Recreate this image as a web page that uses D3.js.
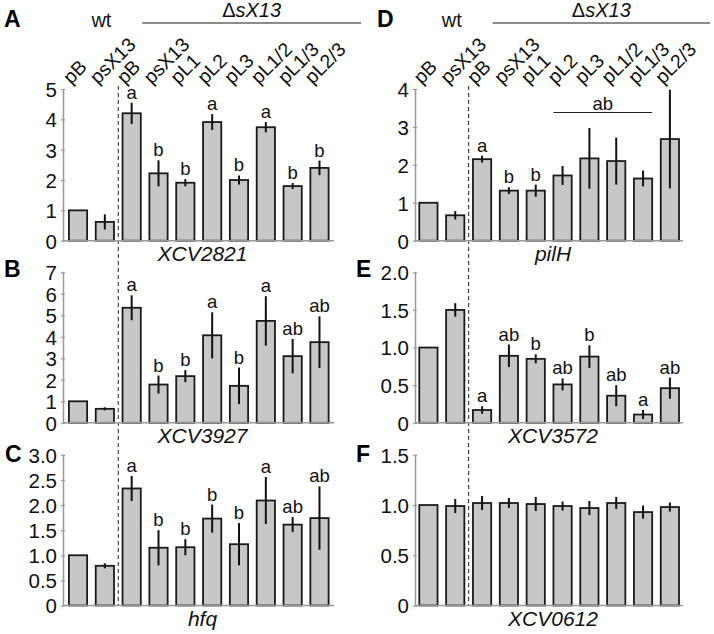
<!DOCTYPE html>
<html>
<head>
<meta charset="utf-8">
<script src="https://cdn.jsdelivr.net/npm/d3@7"></script>
<style>
  html, body { margin: 0; padding: 0; background: #fff; }
  svg { display: block; font-family: "Liberation Sans", Arial, sans-serif; }
</style>
</head>
<body>
<svg id="chart" width="714" height="634"></svg>
<script>
// ---------- data ----------
const categories = ["pB", "psX13", "pB", "psX13", "pL1", "pL2", "pL3", "pL1/2", "pL1/3", "pL2/3"];
const groupWt = "wt";
const groupMutant = "ΔsX13";

const geneA = "XCV2821";
const valuesA = [1.0, 0.62, 4.2, 2.22, 1.91, 3.91, 2.0, 3.74, 1.8, 2.4];
const errorsA = [0, 0.25, 0.35, 0.43, 0.12, 0.26, 0.15, 0.17, 0.1, 0.24];
const lettersA = ["", "", "a", "b", "b", "a", "b", "a", "b", "b"];
const ticksA = [0, 1, 2, 3, 4, 5];
const tickLabelsA = ["0", "1", "2", "3", "4", "5"];

const geneB = "XCV3927";
const valuesB = [1.0, 0.65, 5.35, 1.78, 2.17, 4.07, 1.72, 4.74, 3.1, 3.75];
const errorsB = [0, 0.07, 0.58, 0.42, 0.28, 1.07, 0.85, 1.15, 0.8, 1.2];
const lettersB = ["", "", "a", "b", "b", "a", "b", "a", "ab", "ab"];
const ticksB = [0, 1, 2, 3, 4, 5, 6, 7];
const tickLabelsB = ["0", "1", "2", "3", "4", "5", "6", "7"];

const geneC = "hfq";
const valuesC = [1.0, 0.79, 2.33, 1.15, 1.16, 1.73, 1.22, 2.09, 1.61, 1.74];
const errorsC = [0, 0.05, 0.25, 0.35, 0.16, 0.28, 0.42, 0.47, 0.15, 0.63];
const lettersC = ["", "", "a", "b", "b", "b", "b", "a", "ab", "ab"];
const ticksC = [0, 0.5, 1.0, 1.5, 2.0, 2.5, 3.0];
const tickLabelsC = ["0", "0.5", "1.0", "1.5", "2.0", "2.5", "3.0"];

const geneD = "pilH";
const valuesD = [1.0, 0.67, 2.15, 1.32, 1.32, 1.72, 2.17, 2.1, 1.64, 2.68];
const errorsD = [0, 0.11, 0.09, 0.09, 0.16, 0.25, 0.8, 0.62, 0.21, 1.3];
const lettersD = ["", "", "a", "b", "b", "", "", "", "", ""];
const ticksD = [0, 1, 2, 3, 4];
const tickLabelsD = ["0", "1", "2", "3", "4"];
const bracketD = ["ab", 5, 8, 3.38];   // text, first bar, last bar, level

const geneE = "XCV3572";
const valuesE = [1.0, 1.5, 0.17, 0.89, 0.85, 0.51, 0.88, 0.36, 0.11, 0.46];
const errorsE = [0, 0.09, 0.05, 0.15, 0.06, 0.08, 0.15, 0.14, 0.06, 0.14];
const lettersE = ["", "", "a", "ab", "b", "ab", "b", "ab", "a", "ab"];
const ticksE = [0, 0.5, 1.0, 1.5, 2.0];
const tickLabelsE = ["0", "0.5", "1.0", "1.5", "2.0"];

const geneF = "XCV0612";
const valuesF = [1.0, 0.99, 1.02, 1.02, 1.01, 0.99, 0.97, 1.02, 0.93, 0.98];
const errorsF = [0, 0.07, 0.07, 0.05, 0.07, 0.045, 0.07, 0.06, 0.065, 0.045];
const lettersF = ["", "", "", "", "", "", "", "", "", ""];
const ticksF = [0, 0.5, 1.0, 1.5];
const tickLabelsF = ["0", "0.5", "1.0", "1.5"];

// ---------- layout ----------
const svg = d3.select("#chart");
const cols = [
  { x0: 63, x1: 334, bandStart: 64.6 },
  { x0: 415, x1: 683, bandStart: 415 }
];
const rows = [
  { top: 89, bottom: 240.7 },
  { top: 272.3, bottom: 422.8 },
  { top: 454.8, bottom: 605.5 }
];

const panels = [
  { letter: "A", col: 0, row: 0, gene: geneA, v: valuesA, e: errorsA, l: lettersA, t: ticksA, tl: tickLabelsA, lx: 4, ly: 27 },
  { letter: "B", col: 0, row: 1, gene: geneB, v: valuesB, e: errorsB, l: lettersB, t: ticksB, tl: tickLabelsB, lx: 4, ly: 277 },
  { letter: "C", col: 0, row: 2, gene: geneC, v: valuesC, e: errorsC, l: lettersC, t: ticksC, tl: tickLabelsC, lx: 5, ly: 462 },
  { letter: "D", col: 1, row: 0, gene: geneD, v: valuesD, e: errorsD, l: lettersD, t: ticksD, tl: tickLabelsD, lx: 377, ly: 27 },
  { letter: "E", col: 1, row: 1, gene: geneE, v: valuesE, e: errorsE, l: lettersE, t: ticksE, tl: tickLabelsE, lx: 356, ly: 277 },
  { letter: "F", col: 1, row: 2, gene: geneF, v: valuesF, e: errorsF, l: lettersF, t: ticksF, tl: tickLabelsF, lx: 356, ly: 462 }
];

const idx = d3.range(categories.length);

cols.forEach((c, ci) => {
  c.x = d3.scaleBand().domain(idx).range([c.bandStart, c.bandStart + 268.3])
    .paddingInner(0.32).paddingOuter(0.16);
  const x = c.x;
  const step = x.step();
  const dashX = x(1) + x.bandwidth() + step * 0.32 / 2;

  const head = svg.append("g");
  categories.forEach((cat, i) => {
    const cx = x(i) + x.bandwidth() / 2;
    head.append("text")
      .attr("transform", `translate(${cx - 7},${85}) rotate(-45)`)
      .attr("font-size", 19.5)
      .attr("fill", "#111")
      .text(cat);
  });
  const wtX = (x(0) + x(1) + x.bandwidth()) / 2 + 10;
  head.append("text").attr("x", wtX).attr("y", 27).attr("text-anchor", "middle")
    .attr("font-size", 20).attr("fill", "#111").text(groupWt);
  const lx0 = dashX + 24, lx1 = c.x1 + 27;
  head.append("line").attr("x1", lx0).attr("x2", lx1).attr("y1", 23).attr("y2", 23)
    .attr("stroke", "#666").attr("stroke-width", 1.5);
  const mt = head.append("text").attr("x", (lx0 + lx1) / 2).attr("y", 17)
    .attr("text-anchor", "middle").attr("font-size", 20).attr("fill", "#111");
  mt.append("tspan").text(groupMutant.slice(0, 1));
  mt.append("tspan").attr("font-style", "italic").text(groupMutant.slice(1));

  svg.append("line").attr("x1", dashX).attr("x2", dashX).attr("y1", 86).attr("y2", 606)
    .attr("stroke", "#222").attr("stroke-width", 1).attr("stroke-dasharray", "4,3");
});

panels.forEach(p => {
  const c = cols[p.col], r = rows[p.row];
  const x = c.x;
  const y = d3.scaleLinear().domain([0, d3.max(p.t)]).range([r.bottom, r.top]);
  const g = svg.append("g");
  const rowsData = p.v.map((v, i) => ({ i, v, e: p.e[i], l: p.l[i] }));

  const ax = g.append("g").attr("transform", `translate(${c.x0},0)`)
    .call(d3.axisLeft(y).tickValues(p.t).tickFormat((d, i) => p.tl[i]).tickSizeInner(2).tickSizeOuter(0).tickPadding(4));
  ax.select(".domain").attr("stroke", "#999").attr("stroke-width", 1.5);
  ax.selectAll(".tick line").attr("stroke", "#999").attr("stroke-width", 1.2).attr("x1", 2).attr("x2", -2);
  ax.selectAll(".tick text").attr("font-size", 20.5).attr("fill", "#111")
    .attr("font-family", "'Liberation Sans', Arial, sans-serif").attr("dy", "0.36em");

  g.selectAll("rect.bar").data(rowsData).join("rect")
    .attr("class", "bar")
    .attr("x", d => x(d.i))
    .attr("y", d => y(d.v))
    .attr("width", x.bandwidth())
    .attr("height", d => y(0) - y(d.v))
    .attr("fill", "#c7c7c7")
    .attr("stroke", "#1a1a1a")
    .attr("stroke-width", 1.8);

  g.append("line").attr("x1", c.x0).attr("x2", c.x1).attr("y1", y(0)).attr("y2", y(0))
    .attr("stroke", "#999").attr("stroke-width", 1.5);

  g.selectAll("line.err").data(rowsData.filter(d => d.e > 0)).join("line")
    .attr("class", "err")
    .attr("x1", d => x(d.i) + x.bandwidth() / 2)
    .attr("x2", d => x(d.i) + x.bandwidth() / 2)
    .attr("y1", d => y(d.v + d.e))
    .attr("y2", d => y(d.v - d.e))
    .attr("stroke", "#111").attr("stroke-width", 2);

  g.selectAll("text.sig").data(rowsData.filter(d => d.l)).join("text")
    .attr("class", "sig")
    .attr("x", d => x(d.i) + x.bandwidth() / 2)
    .attr("y", d => y(d.v + d.e) - 4)
    .attr("text-anchor", "middle").attr("font-size", 18.5).attr("fill", "#111")
    .text(d => d.l);

  g.append("text").attr("x", (c.x0 + c.x1) / 2 + 4).attr("y", r.bottom + 20)
    .attr("text-anchor", "middle").attr("font-size", 21).attr("font-style", "italic")
    .attr("fill", "#111").text(p.gene);

  svg.append("text").attr("x", p.lx).attr("y", p.ly).attr("font-size", 23)
    .attr("font-weight", "bold").attr("fill", "#000").text(p.letter);

  if (p.letter === "D") {
    const [txt, i0, i1, lvl] = bracketD;
    const bx0 = x(i0), bx1 = x(i1) + x.bandwidth();
    g.append("line").attr("x1", bx0).attr("x2", bx1).attr("y1", y(lvl)).attr("y2", y(lvl))
      .attr("stroke", "#222").attr("stroke-width", 1.2);
    g.append("text").attr("x", (bx0 + bx1) / 2).attr("y", y(lvl) - 3)
      .attr("text-anchor", "middle").attr("font-size", 18.5).attr("fill", "#111").text(txt);
  }
});
</script>
</body>
</html>
